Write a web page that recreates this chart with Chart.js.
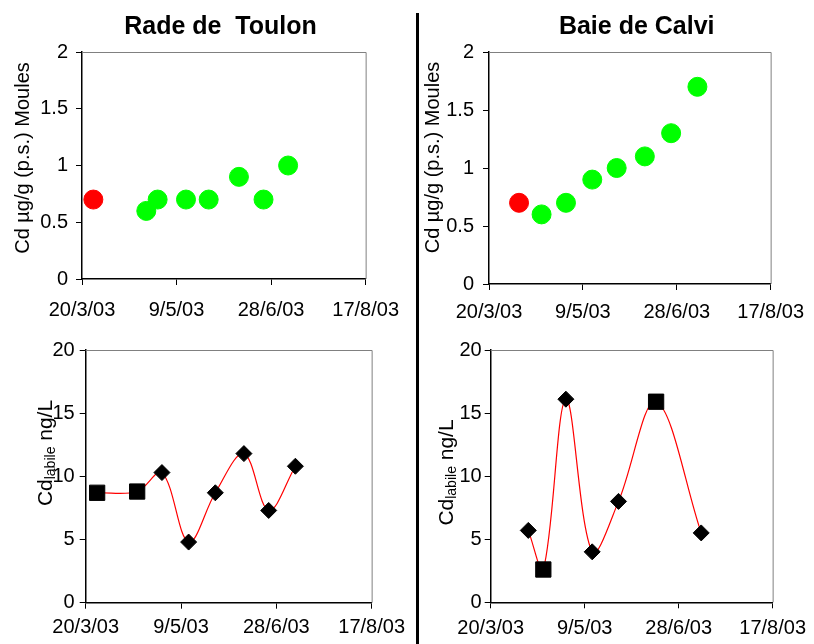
<!DOCTYPE html>
<html><head><meta charset="utf-8">
<script src="https://cdn.jsdelivr.net/npm/chart.js@4.4.0/dist/chart.umd.min.js"></script>
<style>
html,body{margin:0;padding:0;background:#fff;}
#page{position:relative;width:814px;height:644px;overflow:hidden;background:#fff;}
canvas{position:absolute;}
#sep{position:absolute;left:415.5px;top:13px;width:3px;height:631px;background:#000;}
</style></head><body>
<div id="page">
<canvas id="tl" width="412" height="330" style="left:0;top:0"></canvas>
<canvas id="tr" width="396" height="330" style="left:418px;top:0"></canvas>
<canvas id="bl" width="412" height="314" style="left:0;top:330px"></canvas>
<canvas id="br" width="396" height="314" style="left:418px;top:330px"></canvas>
<div id="sep"></div>
</div>
<script>
// ---- data ----
const xStartDate = '2003-03-20';
const xTickLabels = ['20/3/03', '9/5/03', '28/6/03', '17/8/03'];

const toulonMusselT0Dates = ['2003-03-26'];
const toulonMusselT0Values = [0.7];
const toulonMusselDates = ['2003-04-23', '2003-04-29', '2003-05-14', '2003-05-26', '2003-06-11', '2003-06-24', '2003-07-07'];
const toulonMusselValues = [0.6, 0.7, 0.7, 0.7, 0.9, 0.7, 1.0];

const calviMusselT0Dates = ['2003-04-05'];
const calviMusselT0Values = [0.7];
const calviMusselDates = ['2003-04-17', '2003-04-30', '2003-05-14', '2003-05-27', '2003-06-11', '2003-06-25', '2003-07-09'];
const calviMusselValues = [0.6, 0.7, 0.9, 1.0, 1.1, 1.3, 1.7];

const toulonLabileDates = ['2003-03-26', '2003-04-16', '2003-04-29', '2003-05-13', '2003-05-27', '2003-06-11', '2003-06-24', '2003-07-08'];
const toulonLabileValues = [8.7, 8.8, 10.3, 4.8, 8.7, 11.8, 7.3, 10.8];
const toulonLabileKind = ['square', 'square', 'diamond', 'diamond', 'diamond', 'diamond', 'diamond', 'diamond'];

const calviLabileDates = ['2003-04-09', '2003-04-17', '2003-04-29', '2003-05-13', '2003-05-27', '2003-06-16', '2003-07-10'];
const calviLabileValues = [5.7, 2.6, 16.1, 4.0, 8.0, 15.9, 5.5];
const calviLabileKind = ['diamond', 'square', 'diamond', 'diamond', 'diamond', 'square', 'diamond'];

// ---- helpers ----
const FONT = "'Liberation Sans', Arial, Helvetica, sans-serif";
const toDay = d => (Date.parse(d) - Date.parse(xStartDate)) / 86400000;
const pts = (dates, vals) => dates.map((d, i) => ({x: toDay(d), y: vals[i]}));

const panelText = {
  id: 'panelText',
  afterDraw(chart, args, o) {
    const ctx = chart.ctx;
    ctx.save();
    ctx.fillStyle = '#000';
    if (o.title) {
      ctx.font = `bold ${o.title.size}px ${FONT}`;
      ctx.textAlign = 'center';
      ctx.textBaseline = 'middle';
      ctx.fillText(o.title.text, o.title.x, o.title.y);
    }
    if (o.yTitle) {
      const parts = o.yTitle.parts;
      const widths = parts.map(p => { ctx.font = `${p.size}px ${FONT}`; return ctx.measureText(p.text).width; });
      const total = widths.reduce((a, b) => a + b, 0);
      ctx.translate(o.yTitle.x, o.yTitle.y);
      ctx.rotate(-Math.PI / 2);
      ctx.textAlign = 'left';
      ctx.textBaseline = 'alphabetic';
      let cx = -total / 2;
      parts.forEach((p, i) => {
        ctx.font = `${p.size}px ${FONT}`;
        ctx.fillText(p.text, cx, p.dy || 0);
        cx += widths[i];
      });
    }
    ctx.restore();
  }
};

const frame = {
  id: 'frame',
  beforeDatasetsDraw(chart) {
    const {ctx, chartArea: a} = chart;
    ctx.save();
    ctx.strokeStyle = '#808080';
    ctx.lineWidth = 1;
    ctx.beginPath();
    ctx.moveTo(a.left, a.top + 0.5);
    ctx.lineTo(a.right + 0.5, a.top + 0.5);
    ctx.lineTo(a.right + 0.5, a.bottom);
    ctx.stroke();
    ctx.restore();
  }
};

function buildScales(p) {
  const tickFont = {family: FONT, size: 20};
  const grid = {display: true, drawOnChartArea: false, drawTicks: true, tickLength: 6, color: '#000', lineWidth: 1};
  const border = {display: true, color: '#000', width: 1.5};
  return {
    x: {
      type: 'linear', min: 0, max: 150,
      afterFit: s => { s.height = p.H - p.area.bottom; },
      ticks: {stepSize: 50, autoSkip: false, maxRotation: 0, font: tickFont, color: '#000', padding: p.xPad,
              callback: (v, i) => xTickLabels[i]},
      grid, border
    },
    y: {
      min: 0, max: p.yMax,
      afterFit: s => { s.width = p.area.left; },
      ticks: {stepSize: p.yStep, font: tickFont, color: '#000', padding: p.yPad,
              callback: v => String(Math.round(v * 100) / 100)},
      grid, border
    }
  };
}

function baseOptions(p) {
  return {
    responsive: false,
    animation: false,
    events: [],
    layout: {padding: {left: 0, top: p.area.top, right: p.W - p.area.right, bottom: 0}},
    scales: buildScales(p),
    plugins: {
      legend: {display: false},
      tooltip: {enabled: false},
      panelText: {title: p.title, yTitle: p.yTitle}
    }
  };
}

function musselChart(id, p, t0Dates, t0Vals, dates, vals) {
  new Chart(document.getElementById(id), {
    type: 'scatter',
    data: {datasets: [
      {data: pts(t0Dates, t0Vals), backgroundColor: '#ff0000', borderColor: '#ff0000', pointRadius: 9.5, borderWidth: 1},
      {data: pts(dates, vals), backgroundColor: '#00ff00', borderColor: '#00ff00', pointRadius: 9.5, borderWidth: 1}
    ]},
    options: baseOptions(p),
    plugins: [frame, panelText]
  });
}

function labileChart(id, p, dates, vals, kinds) {
  new Chart(document.getElementById(id), {
    type: 'line',
    data: {datasets: [{
      data: pts(dates, vals),
      borderColor: '#ff0000', borderWidth: 1.2, tension: 0.35, fill: false,
      pointStyle: kinds.map(k => k === 'square' ? 'rect' : 'rectRot'),
      pointRadius: kinds.map(k => k === 'square' ? 10.8 : 8),
      pointBackgroundColor: '#000', pointBorderColor: '#000', pointBorderWidth: 1
    }]},
    options: baseOptions(p),
    plugins: [frame, panelText]
  });
}

const musselTitleParts = [{text: 'Cd µg/g (p.s.) Moules', size: 20}];
const labileTitleParts = [{text: 'Cd', size: 21}, {text: 'labile', size: 14, dy: 3}, {text: ' ng/L', size: 21}];

musselChart('tl', {
  W: 412, H: 330, area: {left: 82, right: 371, top: 52, bottom: 279},
  yMax: 2, yStep: 0.5, xPad: 13, yPad: 8,
  title: {text: 'Rade de  Toulon', size: 25, x: 220.5, y: 27.5},
  yTitle: {x: 28.5, y: 158, parts: musselTitleParts}
}, toulonMusselT0Dates, toulonMusselT0Values, toulonMusselDates, toulonMusselValues);

musselChart('tr', {
  W: 396, H: 330, area: {left: 71, right: 358, top: 52, bottom: 284},
  yMax: 2, yStep: 0.5, xPad: 10, yPad: 9,
  title: {text: 'Baie de Calvi', size: 25, x: 218.7, y: 27.5},
  yTitle: {x: 21, y: 157.5, parts: musselTitleParts}
}, calviMusselT0Dates, calviMusselT0Values, calviMusselDates, calviMusselValues);

labileChart('bl', {
  W: 412, H: 314, area: {left: 85.7, right: 375.7, top: 20, bottom: 272.7},
  yMax: 20, yStep: 5, xPad: 7, yPad: 5,
  yTitle: {x: 51.5, y: 123, parts: labileTitleParts}
}, toulonLabileDates, toulonLabileValues, toulonLabileKind);

labileChart('br', {
  W: 396, H: 314, area: {left: 72.7, right: 356.3, top: 20, bottom: 272.3},
  yMax: 20, yStep: 5, xPad: 8, yPad: 3,
  yTitle: {x: 35, y: 142.5, parts: labileTitleParts}
}, calviLabileDates, calviLabileValues, calviLabileKind);
</script>
</body></html>
